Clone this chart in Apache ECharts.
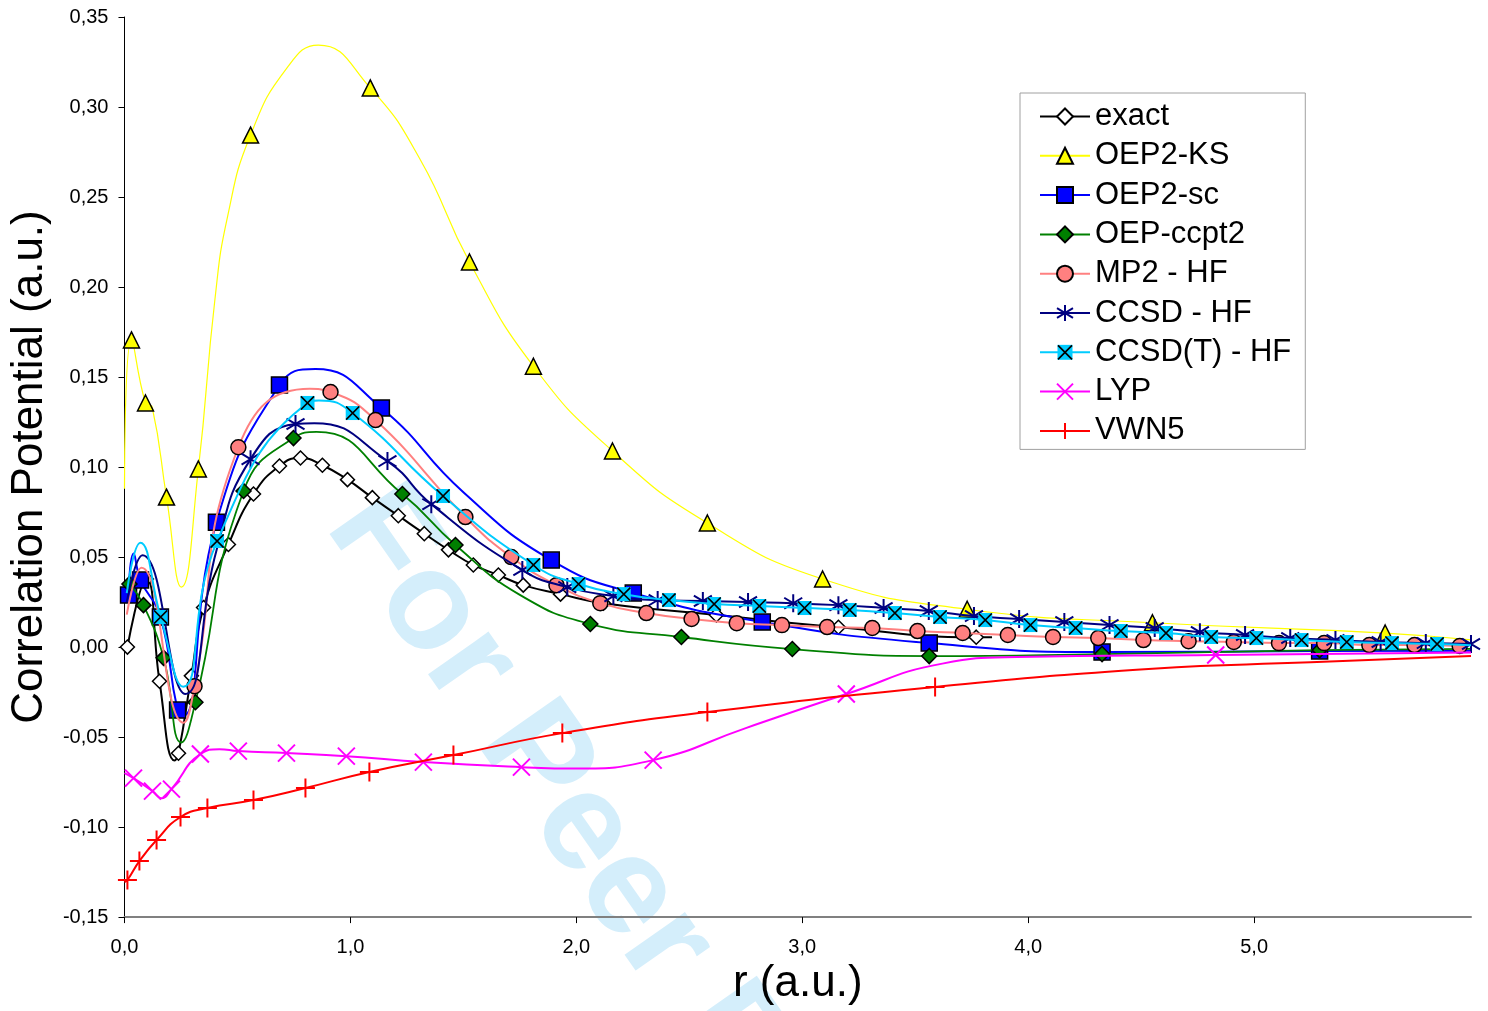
<!DOCTYPE html>
<html><head><meta charset="utf-8">
<script src="https://cdn.jsdelivr.net/npm/echarts@6/dist/echarts.min.js"></script>
<style>html,body{margin:0;padding:0;background:#fff}#c{width:1488px;height:1011px}</style>
</head><body><div id="c"></div>
<script>
// ---- data (r in a.u., potential in a.u.) ----
const seriesNames = ['exact','OEP2-KS','OEP2-sc','OEP-ccpt2','MP2 - HF','CCSD - HF','CCSD(T) - HF','LYP','VWN5'];
const xTicks = [0,1,2,3,4,5];

// marked points
const exactMarkers = [[0.013,0.000],[0.097,0.0378],[0.155,-0.019],[0.239,-0.059],[0.296,-0.016],[0.35,0.022],[0.46,0.057],[0.571,0.085],[0.686,0.1006],[0.779,0.105],[0.876,0.101],[0.987,0.093],[1.097,0.083],[1.212,0.073],[1.327,0.063],[1.434,0.054],[1.544,0.0456],[1.655,0.040],[1.765,0.0344],[1.93,0.0294],[2.12,0.0244],[2.62,0.0178],[3.16,0.011],[3.77,0.0055]];
const ksMarkers = [[0.031,0.1706],[0.093,0.1356],[0.186,0.0833],[0.327,0.0989],[0.558,0.2844],[1.088,0.3106],[1.527,0.2139],[1.81,0.156],[2.16,0.1089],[2.58,0.0689],[3.09,0.0378],[3.73,0.021],[4.55,0.0135],[5.58,0.0078]];
const scMarkers = [[0.018,0.0289],[0.071,0.0372],[0.159,0.0167],[0.235,-0.035],[0.407,0.0694],[0.686,0.1456],[1.137,0.1328],[1.889,0.0483],[2.252,0.030],[2.823,0.0139],[3.562,0.0022],[4.327,-0.0028],[5.29,-0.0022]];
const ccMarkers = [[0.022,0.035],[0.084,0.0233],[0.173,-0.006],[0.314,-0.0306],[0.527,0.0867],[0.748,0.1161],[1.23,0.085],[1.465,0.0567],[2.062,0.0128],[2.465,0.0056],[2.956,-0.0011],[3.562,-0.005],[4.327,-0.0039],[5.29,-0.0017]];
const mpMarkers = [[0.31,-0.0217],[0.504,0.111],[0.912,0.1417],[1.111,0.1261],[1.509,0.0722],[1.712,0.05],[1.912,0.0344],[2.106,0.0244],[2.31,0.0189],[2.51,0.0156],[2.71,0.0133],[2.91,0.0122],[3.11,0.0111],[3.31,0.0106],[3.51,0.0089],[3.71,0.0078],[3.91,0.0067],[4.11,0.0056],[4.31,0.005],[4.51,0.0039],[4.71,0.0033],[4.91,0.0028],[5.11,0.0022],[5.31,0.0022],[5.51,0.0011],[5.71,0.0011],[5.91,0.0006]];
const ccsdMarkers = [[0.558,0.1044],[0.757,0.1239],[1.164,0.1033],[1.358,0.0794],[1.761,0.0428],[1.96,0.0333],[2.164,0.0283],[2.36,0.0261],[2.56,0.0256],[2.76,0.025],[2.96,0.0244],[3.16,0.0233],[3.36,0.0217],[3.56,0.02],[3.76,0.0172],[3.96,0.0156],[4.16,0.0139],[4.36,0.0122],[4.56,0.0106],[4.76,0.0083],[4.96,0.0067],[5.16,0.005],[5.36,0.0039],[5.56,0.0028],[5.76,0.0022],[5.96,0.0017]];
const ctMarkers = [[0.16,0.0167],[0.41,0.0589],[0.81,0.1356],[1.01,0.13],[1.41,0.0839],[1.81,0.0456],[2.01,0.035],[2.21,0.0294],[2.41,0.0261],[2.61,0.0239],[2.81,0.0228],[3.01,0.0217],[3.21,0.0206],[3.41,0.0189],[3.61,0.0167],[3.81,0.015],[4.01,0.0122],[4.21,0.0106],[4.41,0.0089],[4.61,0.0078],[4.81,0.0056],[5.01,0.005],[5.21,0.0039],[5.41,0.0028],[5.61,0.0022],[5.81,0.0017]];
const lypMarkers = [[0.04,-0.0728],[0.124,-0.08],[0.208,-0.0789],[0.336,-0.0594],[0.504,-0.0578],[0.717,-0.0589],[0.982,-0.0606],[1.323,-0.0639],[1.757,-0.0667],[2.34,-0.0628],[3.195,-0.0261],[4.83,-0.0044]];
const vwnMarkers = [[0.013,-0.1294],[0.066,-0.1189],[0.142,-0.1072],[0.248,-0.0944],[0.367,-0.0894],[0.571,-0.085],[0.801,-0.0783],[1.084,-0.0694],[1.456,-0.06],[1.938,-0.0478],[2.58,-0.0361],[3.588,-0.0222]];

// unmarked points
const exactCurve = [[0.222,-0.063],[3.84,0.0055]];
const ksCurve = [[0,0.088],[0.122,0.1335],[0.252,0.0333],[0.40,0.1928],[0.456,0.239],[0.721,0.322],[0.858,0.3344],[1.31,0.2706],[5.96,0.004]];
const scCurve = [[0.04,0.052],[0.26,-0.038],[0.845,0.1544],[1.5,0.086],[5.96,-0.002]];
const ccCurve = [[0.252,-0.053],[0.85,0.1195],[1.75,0.029],[5.96,-0.001]];
const mpCurve = [[0.01,0.018],[0.075,0.044],[0.262,-0.042],[0.82,0.1435]];
const ccsdCurve = [[0.01,0.025],[0.08,0.051],[0.27,-0.026],[0.41,0.055],[0.84,0.1244]];
const ctCurve = [[0.01,0.03],[0.07,0.058],[0.26,-0.022],[0.86,0.137],[5.96,0.001]];
const lypCurve = [[0,-0.07],[0.165,-0.084],[0.42,-0.0567],[2.0,-0.0675],[2.75,-0.045],[3.62,-0.0092],[3.95,-0.0055],[5.96,-0.003]];
const vwnCurve = [[0,-0.1306],[4.55,-0.012],[5.25,-0.0085],[5.96,-0.005]];

// ---- build ----
function build(markers, curve){
  const pts = markers.map(p => ({value:[p[0],p[1]]}))
    .concat(curve.map(p => ({value:[p[0],p[1]], symbol:'none'})));
  pts.sort((a,b) => a.value[0]-b.value[0]);
  return pts;
}
const ctIcon = 'image://data:image/svg+xml;charset=utf-8,' + encodeURIComponent(
  '<svg xmlns="http://www.w3.org/2000/svg" width="32" height="32" viewBox="0 0 16 16"><rect x="0.5" y="0.5" width="15" height="15" fill="#00CCFF"/><path d="M1,1L15,15M15,1L1,15" stroke="#000" stroke-width="1.7"/></svg>');
const STAR = 'path://M5,0L5,10M0.6,2L9.4,8M9.4,2L0.6,8';
const XS = 'path://M0,0L10,10M10,0L0,10';
const PLUS = 'path://M5,0L5,10M0,5L10,5';

const styles = [
  {d:[exactMarkers,exactCurve], line:'#000000', lw:2, sym:'diamond', size:14, fill:'#ffffff', border:'#000000', bw:1.5},
  {d:[ksMarkers,ksCurve], line:'#FFFF00', lw:1.2, sym:'triangle', size:16, fill:'#FFFF00', border:'#000000', bw:1.5},
  {d:[scMarkers,scCurve], line:'#0000FF', lw:2, sym:'rect', size:16, fill:'#0000FF', border:'#000000', bw:1.5},
  {d:[ccMarkers,ccCurve], line:'#008000', lw:1.8, sym:'diamond', size:15, fill:'#008000', border:'#000000', bw:1.5},
  {d:[mpMarkers,mpCurve], line:'#FF8080', lw:2, sym:'circle', size:15, fill:'#FF8080', border:'#000000', bw:1.5},
  {d:[ccsdMarkers,ccsdCurve], line:'#000080', lw:2, sym:STAR, size:18, fill:'#000080', border:'#000080', bw:2},
  {d:[ctMarkers,ctCurve], line:'#00CCFF', lw:2, sym:ctIcon, size:15, fill:'#00CCFF', border:'#000000', bw:0},
  {d:[lypMarkers,lypCurve], line:'#FF00FF', lw:2, sym:XS, size:17, fill:'#FF00FF', border:'#FF00FF', bw:2},
  {d:[vwnMarkers,vwnCurve], line:'#FF0000', lw:2, sym:PLUS, size:19, fill:'#FF0000', border:'#FF0000', bw:2}
];

const FONT = '"Liberation Sans", Arial, sans-serif';
const series = styles.map((s,i) => ({
  name: seriesNames[i], type:'line', smooth:0.5, showAllSymbol:true,
  data: build(s.d[0], s.d[1]),
  symbol: s.sym, symbolSize: s.size,
  lineStyle:{color:s.line, width:s.lw},
  itemStyle:{color:s.fill, borderColor:s.border, borderWidth:s.bw},
  emphasis:{disabled:true}, z: 2+i
}));

const chart = echarts.init(document.getElementById('c'));
chart.setOption({
  animation:false,
  backgroundColor:'#ffffff',
  grid:{left:124, top:17, right:17, bottom:83, containLabel:false},
  graphic:[{type:'text', x:356, y:504, rotation:-55*Math.PI/180, z:-10, silent:true,
    style:{text:'For Peer Review', font:'bold 140px '+FONT, fill:'#d4eefb', align:'left', verticalAlign:'middle'}}],
  legend:{
    orient:'vertical', left:1020, top:93, data:seriesNames, selectedMode:false,
    itemWidth:50, itemHeight:20, itemGap:8.3,
    padding:[8,14,3,19], borderColor:'#a0a0a0', borderWidth:1, backgroundColor:'#ffffff',
    textStyle:{fontFamily:FONT, fontSize:31, color:'#000', lineHeight:30}
  },
  xAxis:{
    type:'value', min:xTicks[0], max:5.96, interval:1,
    name:'r (a.u.)', nameLocation:'middle', nameGap:44,
    nameTextStyle:{fontFamily:FONT, fontSize:44, color:'#000'},
    axisLine:{onZero:false, lineStyle:{color:'#808080', width:2}},
    axisTick:{show:true, inside:false, length:6, lineStyle:{color:'#000', width:1}},
    axisLabel:{fontFamily:FONT, fontSize:20, color:'#000', margin:20, showMaxLabel:false,
      formatter:v => v.toFixed(1).replace('.',',')},
    splitLine:{show:false}
  },
  yAxis:{
    type:'value', min:-0.15, max:0.35, interval:0.05,
    name:'Correlation Potential (a.u.)', nameLocation:'middle', nameGap:70, nameRotate:90,
    nameTextStyle:{fontFamily:FONT, fontSize:44, color:'#000'},
    axisLine:{show:true, onZero:false, lineStyle:{color:'#000', width:1}},
    axisTick:{show:true, inside:false, length:6, lineStyle:{color:'#000', width:1}},
    axisLabel:{fontFamily:FONT, fontSize:20, color:'#000', margin:16,
      formatter:v => v.toFixed(2).replace('.',',').replace('-0,00','0,00')},
    splitLine:{show:false}
  },
  series: series
});
</script></body></html>
